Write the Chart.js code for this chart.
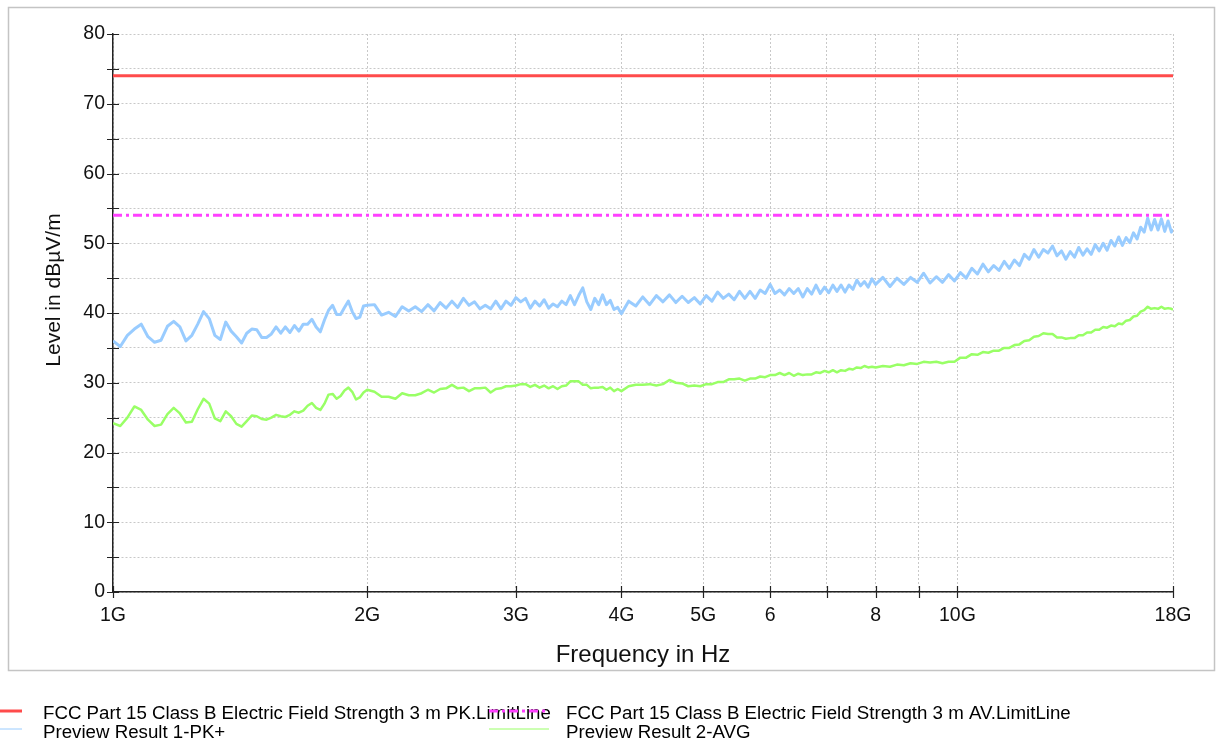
<!doctype html>
<html>

<head>
	<title>Preview Result</title>
	<script src="https://cdn.jsdelivr.net/npm/chart.js@4/dist/chart.umd.min.js"></script>
	<style>
	body { margin: 0; background: #fff; }
	canvas { display: block; }
	</style>
</head>

<body>
	<canvas id="canvas" width="1217" height="744"></canvas>
	<script>
		// frequency in MHz
		const freqs = [
			1000, 1020, 1040, 1060, 1080, 1100, 1120, 1140, 1160, 1180, 1200, 1220, 1240, 1260, 1280, 1300, 1320,
			1340, 1360, 1380, 1400, 1420, 1440, 1460, 1480, 1500, 1520, 1540, 1560, 1580, 1600, 1620, 1640, 1660,
			1680, 1700, 1720, 1740, 1760, 1780, 1800, 1820, 1840, 1860, 1880, 1900, 1920, 1940, 1960, 1980, 2000,
			2040, 2080, 2120, 2160, 2200, 2240, 2280, 2320, 2360, 2400, 2440, 2480, 2520, 2560, 2600, 2640, 2680,
			2720, 2760, 2800, 2840, 2880, 2920, 2960, 3000, 3040, 3080, 3120, 3160, 3200, 3240, 3280, 3320, 3360,
			3400, 3440, 3480, 3520, 3560, 3600, 3640, 3680, 3720, 3760, 3800, 3840, 3880, 3920, 3960, 4000,
			4080, 4160, 4240, 4320, 4400, 4480, 4560, 4640, 4720, 4800, 4880, 4960, 5040, 5120, 5200, 5280, 5360,
			5440, 5520, 5600, 5680, 5760, 5840, 5920, 6000, 6080, 6160, 6240, 6320, 6400, 6480, 6560, 6640, 6720,
			6800, 6880, 6960, 7040, 7120, 7200, 7280, 7360, 7440, 7520, 7600, 7680, 7760, 7840, 7920, 8000,
			8160, 8320, 8480, 8640, 8800, 8960, 9120, 9280, 9440, 9600, 9760, 9920, 10080, 10240, 10400, 10560,
			10720, 10880, 11040, 11200, 11360, 11520, 11680, 11840, 12000, 12160, 12320, 12480, 12640, 12800,
			12960, 13120, 13280, 13440, 13600, 13760, 13920, 14080, 14240, 14400, 14560, 14720, 14880, 15040,
			15200, 15360, 15520, 15680, 15840, 16000,
			16160, 16320, 16480, 16640, 16800, 16960, 17120, 17280, 17440, 17600, 17760, 17920, 18000
		];

		// Preview Result 1-PK+ (dBuV/m)
		const pkValues = [
			36.0, 35.2, 36.8, 37.7, 38.4, 36.6, 35.8, 36.1, 38.1, 38.8, 38.0, 36.0, 36.8, 38.4, 40.2, 39.2, 36.8,
			36.2, 38.7, 37.4, 36.6, 35.7, 37.1, 37.7, 37.6, 36.5, 36.5, 37.0, 38.0, 37.1, 38.0, 37.2, 38.2, 37.4,
			38.4, 38.4, 39.1, 38.0, 37.3, 39.0, 40.4, 41.1, 39.8, 39.8, 40.8, 41.7, 40.2, 39.2, 39.4, 41.0, 41.1,
			41.2, 39.7, 40.1, 39.5, 40.9, 40.3, 40.9, 40.2, 41.2, 40.3, 41.5, 40.7, 41.7, 40.8, 42.1, 41.1, 41.6,
			40.6, 41.1, 40.6, 41.7, 40.6, 41.7, 41.1, 42.2, 41.6, 42.1, 40.7, 41.7, 41.0, 41.9, 40.7, 41.3, 40.9,
			41.7, 41.2, 42.5, 41.2, 42.5, 43.6, 41.6, 40.5, 42.1, 41.2, 42.6, 41.2, 41.8, 40.5, 40.8, 39.9,
			41.7, 41.0, 42.3, 41.2, 42.5, 41.6, 42.6, 41.5, 42.4, 41.5, 42.2, 41.3, 42.5, 41.7, 43.0, 42.1, 42.7,
			41.9, 43.1, 42.1, 43.1, 42.1, 43.3, 42.8, 44.1, 42.8, 43.3, 42.6, 43.5, 42.8, 43.5, 42.3, 43.5, 42.7,
			44.0, 42.8, 43.7, 42.9, 44.0, 43.1, 44.0, 43.0, 44.0, 43.4, 44.7, 43.9, 44.5, 43.7, 44.9, 44.1,
			45.1, 43.8, 45.0, 44.1, 45.1, 44.4, 45.7, 44.3, 45.2, 44.4, 45.5, 44.6, 45.8, 45.0, 46.4, 45.6,
			47.0, 45.9, 46.8, 46.1, 47.4, 46.4, 47.6, 46.8, 48.4, 47.7, 49.1, 48.0, 49.1, 48.6,
			49.6, 48.2, 48.9, 47.7, 48.8, 48.0, 49.4, 48.3, 49.2, 48.4, 49.8, 48.9, 50.0, 49.0,
			50.4, 49.6, 50.9, 49.7, 50.8, 50.1,
			51.5, 50.6, 52.3, 51.6, 53.6, 51.9, 53.4, 51.9, 53.5, 51.7, 53.2, 51.6, 52.0
		];

		// Preview Result 2-AVG (dBuV/m)
		const avgValues = [
			24.2, 23.8, 25.0, 26.6, 26.1, 24.7, 23.8, 24.0, 25.5, 26.4, 25.6, 24.3, 24.4, 26.2, 27.7, 27.0, 24.9,
			24.5, 25.9, 25.2, 24.1, 23.7, 24.5, 25.3, 25.2, 24.8, 24.7, 25.0, 25.4, 25.2, 25.1, 25.4, 25.9, 25.7,
			26.0, 26.7, 27.1, 26.4, 26.1, 27.0, 28.3, 28.4, 27.7, 28.1, 28.9, 29.3, 28.7, 27.6, 27.9, 28.6, 29.0,
			28.7, 28.0, 28.0, 27.7, 28.5, 28.2, 28.2, 28.5, 29.0, 28.6, 29.1, 29.2, 29.7, 29.2, 29.3, 28.8, 29.2,
			29.2, 29.3, 28.6, 29.1, 29.2, 29.5, 29.5, 29.6, 29.8, 29.8, 29.4, 29.7, 29.3, 29.6, 29.2, 29.5, 29.1,
			29.5, 29.6, 30.2, 30.2, 30.2, 29.7, 29.7, 29.2, 29.3, 29.3, 29.4, 29.0, 29.3, 28.8, 29.1, 28.8,
			29.5, 29.7, 29.7, 29.8, 29.6, 29.8, 30.4, 30.0, 29.9, 29.5, 29.6, 29.5, 29.8, 29.8, 30.1, 30.1, 30.5,
			30.5, 30.6, 30.3, 30.6, 30.6, 30.9, 30.8, 31.1, 31.1, 31.4, 31.1, 31.4, 31.0, 31.3, 31.1, 31.2, 31.2,
			31.5, 31.4, 31.7, 31.5, 31.8, 31.5, 31.8, 31.7, 32.0, 31.9, 32.2, 32.1, 32.4, 32.2, 32.3, 32.2,
			32.4, 32.3, 32.6, 32.5, 32.8, 32.7, 33.0, 32.9, 33.0, 32.8, 33.0, 33.0, 33.6, 33.6, 34.1, 34.0,
			34.4, 34.3, 34.6, 34.6, 35.0, 35.0, 35.4, 35.5, 36.0, 36.1, 36.6, 36.7, 37.1, 37.0,
			37.0, 36.5, 36.5, 36.3, 36.4, 36.4, 36.8, 36.8, 37.2, 37.2, 37.6, 37.6, 38.0, 37.9,
			38.2, 38.1, 38.5, 38.4, 38.9, 39.0,
			39.5, 39.6, 40.2, 40.4, 40.9, 40.6, 40.7, 40.6, 40.9, 40.6, 40.7, 40.6, 40.5
		];

		// limit lines
		const limitFreqs = [1000, 18000];
		const pkLimit = [74, 74];
		const avLimit = [54, 54];

		const xTickValues = [1000, 2000, 3000, 4000, 5000, 6000, 7000, 8000, 9000, 10000, 18000];
		const xTickLabels = ['1G', '2G', '3G', '4G', '5G', '6', '', '8', '', '10G', '18G'];

		const seriesNames = [
			'FCC Part 15 Class B Electric Field Strength 3 m PK.LimitLine',
			'FCC Part 15 Class B Electric Field Strength 3 m AV.LimitLine',
			'Preview Result 1-PK+',
			'Preview Result 2-AVG'
		];
		const yTitle = 'Level in dBµV/m';

		const FONT = "'Liberation Sans', Arial, sans-serif";
		Chart.defaults.font.family = FONT;

		function pts(xs, ys) {
			return xs.map((x, i) => ({x: x, y: ys[i]}));
		}

		// grey frame round the plot, y title
		const framePlugin = {
			id: 'frame',
			beforeDraw(chart) {
				const c = chart.ctx;
				c.save();
				c.fillStyle = '#fff';
				c.fillRect(0, 0, chart.width, chart.height);
				c.strokeStyle = '#c4c4c4';
				c.lineWidth = 1.5;
				c.strokeRect(8.5, 7.5, 1206, 663);
				c.translate(54, 290);
				c.rotate(-Math.PI / 2);
				c.font = '21px ' + FONT;
				c.fillStyle = '#111';
				c.textAlign = 'center';
				c.textBaseline = 'middle';
				c.fillText(yTitle, 0, 0);
				c.restore();
			}
		};

		// tick marks crossing the axes
		const tickPlugin = {
			id: 'crossTicks',
			afterDraw(chart) {
				const c = chart.ctx;
				const xs = chart.scales.x, ys = chart.scales.y;
				c.save();
				c.strokeStyle = '#222';
				c.lineWidth = 1.2;
				c.beginPath();
				xTickValues.forEach(v => {
					const px = Math.round(xs.getPixelForValue(v)) + 0.5;
					c.moveTo(px, ys.bottom - 6);
					c.lineTo(px, ys.bottom + 6);
				});
				ys.ticks.forEach(t => {
					const py = Math.round(ys.getPixelForValue(t.value)) + 0.5;
					c.moveTo(xs.left - 6, py);
					c.lineTo(xs.left + 6, py);
				});
				c.stroke();
				c.restore();
			}
		};

		// legend below the frame, two columns
		const legendPlugin = {
			id: 'sideLegend',
			afterDraw(chart) {
				const c = chart.ctx;
				const cols = [{x0: 0, x1: 22, tx: 43}, {x0: 489, x1: 549, tx: 566}];
				const rows = [{ly: 711, ty: 719, lw: 3}, {ly: 729, ty: 738, lw: 1}];
				c.save();
				c.font = '18.7px ' + FONT;
				c.textBaseline = 'alphabetic';
				c.fillStyle = '#000';
				chart.data.datasets.forEach((ds, i) => {
					const col = cols[i % 2], row = rows[Math.floor(i / 2)];
					c.fillText(ds.label, col.tx, row.ty);
				});
				chart.data.datasets.forEach((ds, i) => {
					const col = cols[i % 2], row = rows[Math.floor(i / 2)];
					c.strokeStyle = ds.borderColor;
					c.lineWidth = row.lw;
					c.setLineDash(ds.borderDash || []);
					c.beginPath();
					c.moveTo(col.x0, row.ly);
					c.lineTo(col.x1, row.ly);
					c.stroke();
				});
				c.restore();
			}
		};

		const ctx = document.getElementById('canvas').getContext('2d');
		window.myChart = new Chart(ctx, {
			type: 'line',
			data: {
				datasets: [{
					label: seriesNames[0],
					data: pts(limitFreqs, pkLimit),
					borderColor: '#ff4b4b',
					borderWidth: 3,
					pointRadius: 0
				}, {
					label: seriesNames[1],
					data: pts(limitFreqs, avLimit),
					borderColor: '#ff40ff',
					borderWidth: 3,
					borderDash: [9, 4, 3, 4],
					pointRadius: 0
				}, {
					label: seriesNames[2],
					data: pts(freqs, pkValues),
					borderColor: '#99ccff',
					borderWidth: 3,
					borderJoinStyle: 'round',
					pointRadius: 0,
					tension: 0
				}, {
					label: seriesNames[3],
					data: pts(freqs, avgValues),
					borderColor: '#99ff66',
					borderWidth: 2.5,
					borderJoinStyle: 'round',
					pointRadius: 0,
					tension: 0
				}]
			},
			options: {
				responsive: false,
				animation: false,
				devicePixelRatio: 1,
				layout: {
					padding: {left: 0, top: 34, right: 44, bottom: 72}
				},
				plugins: {
					legend: {display: false},
					tooltip: {enabled: false}
				},
				scales: {
					x: {
						type: 'logarithmic',
						min: 1000,
						max: 18000,
						afterBuildTicks: s => {
							s.ticks = xTickValues.map(v => ({value: v}));
						},
						afterFit: s => {
							s.height = 80;
						},
						ticks: {
							autoSkip: false,
							maxRotation: 0,
							padding: 12,
							color: '#111',
							font: {size: 19.5},
							callback: (v, i) => xTickLabels[i]
						},
						grid: {color: '#c8c8c8', lineWidth: 1, drawTicks: false},
						border: {color: '#222', width: 1.5, dash: [2, 2]},
						title: {
							display: true,
							text: 'Frequency in Hz',
							color: '#111',
							font: {size: 24, lineHeight: 1.2},
							padding: {top: 0, bottom: 2}
						}
					},
					y: {
						min: 0,
						max: 80,
						afterFit: s => {
							s.width = 113;
						},
						ticks: {
							stepSize: 5,
							autoSkip: false,
							padding: 8,
							color: '#111',
							font: {size: 19.5},
							callback: v => (v % 10 === 0 ? v : '')
						},
						grid: {color: '#c8c8c8', lineWidth: 1, drawTicks: false},
						border: {color: '#222', width: 1.5, dash: [2, 2]},
						title: {display: false}
					}
				}
			},
			plugins: [framePlugin, tickPlugin, legendPlugin]
		});
	</script>
</body>

</html>
